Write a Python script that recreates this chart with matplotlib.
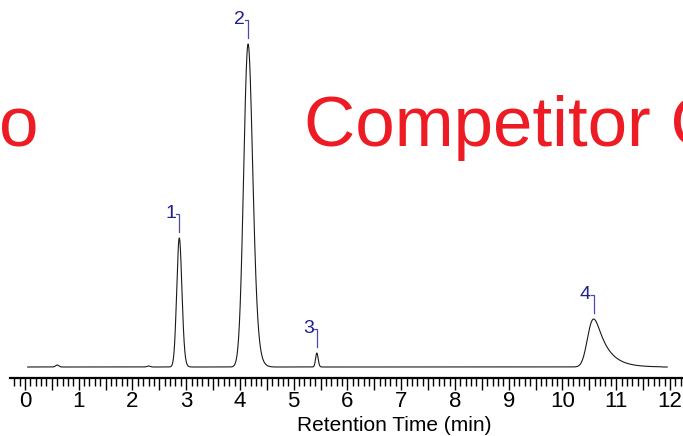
import numpy as np
import matplotlib
matplotlib.use("Agg")
import matplotlib.pyplot as plt
from matplotlib.ticker import MultipleLocator

# 峰表
peak_labels = ["1", "2", "3", "4"]
peak_times = [2.87, 4.15, 5.43, 10.58]
peak_heights = [129, 323, 14, 48]
peak_sigma = [0.045, 0.075, 0.022, 0.085]
peak_tau = [0.02, 0.05, 0.01, 0.22]

# 基线上的小扰动
bump_times = [0.6, 2.3]
bump_heights = [2.0, 1.0]
bump_sigma = [0.03, 0.03]

run_start, run_end = 0.05, 11.95
tick_values = list(range(13))
tick_labels = [str(v) for v in tick_values]
x_label = "Retention Time (min)"
overlay_left = "o"
overlay_right = "Competitor C"

plt.rcParams["font.family"] = ["Liberation Sans", "DejaVu Sans"]

# 组合色谱信号
dt = 0.002
t = np.arange(run_start, run_end, dt)
signal = np.zeros_like(t)
for tr, h, s, tau in zip(peak_times, peak_heights, peak_sigma, peak_tau):
    g = np.exp(-0.5 * ((t - tr) / s) ** 2)
    k = np.exp(-np.arange(0, 8 * tau, dt) / tau)
    shape = np.convolve(g, k)[: len(t)]
    # 把峰顶挪回保留时间
    shift = int(round((t[np.argmax(shape)] - tr) / dt))
    shape = np.roll(shape, -shift)
    signal += h * shape / shape.max()
for tb, hb, sb in zip(bump_times, bump_heights, bump_sigma):
    signal += hb * np.exp(-0.5 * ((t - tb) / sb) ** 2)

fig = plt.figure(figsize=(6.83, 4.36), dpi=100)
ax = fig.add_axes([10 / 683, 58 / 436, 673 / 683, 378 / 436])
ax.set_xlim(-0.279, 12.242)
ax.set_ylim(-11, 367)  # 纵向 1 单位 = 1 像素

ax.plot(t, signal, color="#1a1a1a", linewidth=0.8)

# 峰标注：数字 + 折线
navy = "#1f1f8c"
line_c = "#4a4aa8"
dx = 3 / 53.75  # 3 像素
for lab, tr, h in zip(peak_labels, peak_times, peak_heights):
    ax.plot([tr - dx, tr, tr], [h + 24, h + 24, h + 6], color=line_c, linewidth=0.9)
    ax.text(tr - dx, h + 25, lab, ha="right", va="center", fontsize=14, color=navy)

# 背景大字
red = "#ed1c24"
ax.text(0.25, 221, overlay_left, ha="right", va="baseline", fontsize=51, color=red)
ax.text(5.19, 221, overlay_right, ha="left", va="baseline", fontsize=51, color=red)

# 坐标轴
for side in ["top", "left", "right"]:
    ax.spines[side].set_visible(False)
ax.spines["bottom"].set_linewidth(1.6)
ax.set_yticks([])
ax.xaxis.set_major_locator(MultipleLocator(0.5))
ax.xaxis.set_minor_locator(MultipleLocator(0.1))
ax.xaxis.set_major_formatter(plt.FuncFormatter(
    lambda v, p: tick_labels[int(round(v))]
    if abs(v - round(v)) < 1e-6 and 0 <= round(v) <= 12 else ""))
ax.tick_params(axis="x", which="major", length=8.5, width=1.0, direction="out",
               pad=1, labelsize=16)
ax.tick_params(axis="x", which="minor", length=5.5, width=1.0, direction="out")
ax.set_xlabel(x_label, fontsize=15, labelpad=0, va="bottom")
ax.xaxis.set_label_coords((394 - 10) / 683 * 683 / 673, -57 / 378)

fig.savefig("out.png", dpi=100)
